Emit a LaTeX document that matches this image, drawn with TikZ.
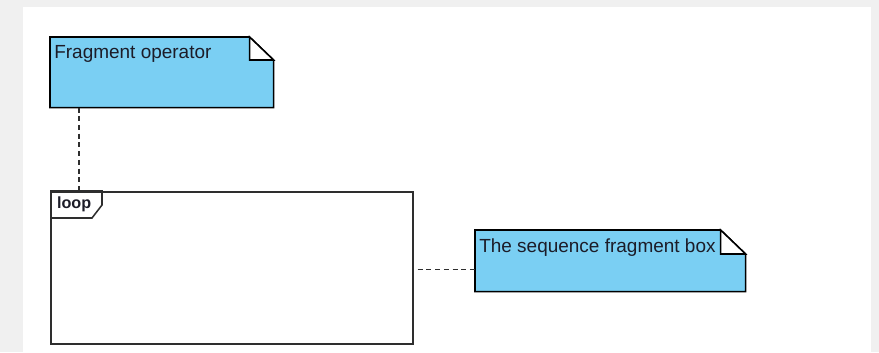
\documentclass[tikz,border=0pt]{standalone}
\usepackage{fontspec}
\setmainfont{Liberation Sans}
\usepackage{tikz}
\usetikzlibrary{positioning,calc}

\definecolor{notefill}{HTML}{7ACFF3}
\definecolor{pagegray}{HTML}{F0F0F0}
\definecolor{edgegray}{HTML}{2E2E2E}
\definecolor{inkdark}{HTML}{1C1C28}

\tikzset{
  notebox/.style={inner sep=0pt, anchor=north west},
  notetext/.style={anchor=north west, inner xsep=0.1cm, inner ysep=0.2cm,
    text=inkdark, font=\fontsize{13.5}{16}\selectfont},
  noteedge/.style={draw=black, line width=1.1pt, fill=notefill, line join=miter},
  foldedge/.style={draw=black, line width=1.1pt, fill=white},
  framebox/.style={draw=edgegray, line width=1.2pt, inner sep=0pt, anchor=north west},
  notelink/.style={draw=edgegray, line width=0.9pt, dash pattern=on 3.6pt off 2.6pt}
}

\begin{document}
\begin{tikzpicture}
% page and panel
\fill[pagegray] (0,0) rectangle (21.975,8.8);
\fill[white] (0.575,0) rectangle (21.775,8.625);
\useasboundingbox (0,0) rectangle (21.975,8.8);

% the two notes
\node[notebox, minimum width=5.575cm, minimum height=1.75cm] (opnote) at (1.25,7.875) {};
\node[notebox, minimum width=6.75cm, minimum height=1.525cm] (seqnote) at (11.875,3.05) {};

\path[noteedge] (opnote.north west) -- ($(opnote.north east)+(-0.6,0)$)
  -- ($(opnote.north east)+(0,-0.575)$) -- (opnote.south east)
  -- (opnote.south west) -- cycle;
\path[foldedge] ($(opnote.north east)+(-0.6,0)$) -- ($(opnote.north east)+(-0.6,-0.575)$)
  -- ($(opnote.north east)+(0,-0.575)$) -- cycle;
\path[noteedge] (seqnote.north west) -- ($(seqnote.north east)+(-0.625,0)$)
  -- ($(seqnote.north east)+(0,-0.6)$) -- (seqnote.south east)
  -- (seqnote.south west) -- cycle;
\path[foldedge] ($(seqnote.north east)+(-0.625,0)$) -- ($(seqnote.north east)+(-0.625,-0.6)$)
  -- ($(seqnote.north east)+(0,-0.6)$) -- cycle;

% note texts
\node[notetext] (optext) at (opnote.north west) {Fragment operator};
\node[notetext] (seqtext) at (seqnote.north west) {The sequence fragment box};

% loop frame with its operator tag
\node[framebox, minimum width=9.05cm, minimum height=3.8cm] (loopframe) at (1.25,4.025) {};
\draw[edgegray, line width=1.1pt] (loopframe.north west) -- ++(1.3,0) -- ++(0,-0.35)
  -- ++(-0.25,-0.325) -- ++(-1.05,0);
\node[anchor=north west, inner sep=0pt, text=inkdark,
  font=\bfseries\fontsize{11.5}{14}\selectfont] (looptag)
  at ($(loopframe.north west)+(0.17,-0.14)$) {loop};

% dashed anchors from notes
\coordinate (linkstart) at ($(loopframe.east)+(0.1,-0.05)$);
\draw[notelink] ($(opnote.south west)+(0.725,0)$) -- ($(loopframe.north west)+(0.725,0)$);
\draw[notelink] (linkstart) -- (linkstart -| seqnote.west);
\end{tikzpicture}
\end{document}
